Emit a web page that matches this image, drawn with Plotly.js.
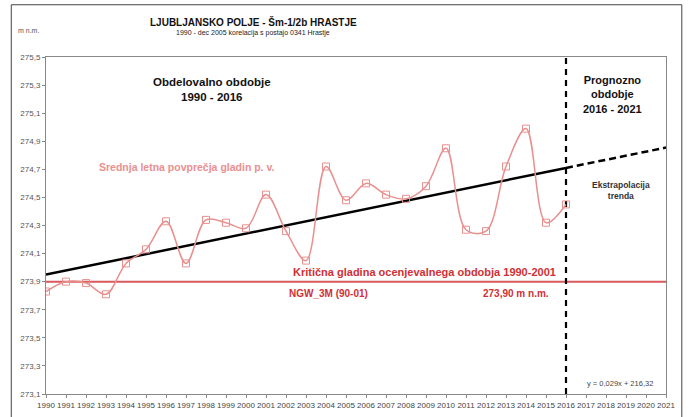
<!DOCTYPE html>
<html>
<head>
<meta charset="utf-8">
<script src="https://cdn.plot.ly/plotly-3.0.1.min.js"></script>
<style>html,body{margin:0;padding:0;background:#fff;}#chart{width:689px;height:417px;}</style>
</head>
<body>
<div id="chart"></div>
<script>
const years = [1990,1991,1992,1993,1994,1995,1996,1997,1998,1999,2000,2001,2002,2003,2004,2005,2006,2007,2008,2009,2010,2011,2012,2013,2014,2015,2016];
const levels = [273.83,273.90,273.89,273.81,274.03,274.13,274.33,274.03,274.34,274.32,274.28,274.52,274.26,274.05,274.72,274.48,274.60,274.52,274.49,274.58,274.85,274.27,274.26,274.72,274.99,274.32,274.45];
const trendX = [1990, 2016];
const trendY = [273.95, 274.71];
const extrapX = [2016, 2021];
const extrapY = [274.71, 274.855];
const criticalX = [1990, 2021];
const criticalY = [273.90, 273.90];
const splitX = [2016, 2016];
const splitY = [273.1, 275.5];
const yTicks = [273.1,273.3,273.5,273.7,273.9,274.1,274.3,274.5,274.7,274.9,275.1,275.3,275.5];
const xTicks = [1990,1991,1992,1993,1994,1995,1996,1997,1998,1999,2000,2001,2002,2003,2004,2005,2006,2007,2008,2009,2010,2011,2012,2013,2014,2015,2016,2017,2018,2019,2020,2021];

const F = 'Arial, "Liberation Sans", sans-serif';
const FN = '"Liberation Sans Narrow", "Arial Narrow", Arial, sans-serif';
const salmon = '#e8908e';
const red = '#d9585b';
const textRed = '#cf2f35';

const traces = [
  {x: criticalX, y: criticalY, mode:'lines', line:{color:red, width:2}, hoverinfo:'skip'},
  {x: splitX, y: splitY, mode:'lines', line:{color:'#000', width:2.2, dash:'6px,5px'}, hoverinfo:'skip'},
  {x: trendX, y: trendY, mode:'lines', line:{color:'#000', width:2.5}},
  {x: extrapX, y: extrapY, mode:'lines', line:{color:'#000', width:2.5, dash:'7px,4px'}},
  {x: years, y: levels, mode:'lines+markers', line:{color:salmon, width:1.5, shape:'spline', smoothing:1},
   marker:{symbol:'square-open', size:7, color:salmon, line:{width:1, color:salmon}}}
];

const layout = {
  width:689, height:417,
  margin:{l:46, r:23, t:57, b:23},
  paper_bgcolor:'#fff', plot_bgcolor:'#fff',
  showlegend:false,
  separators:', ',
  font:{family:F, color:'#333', size:8},
  xaxis:{range:[1990,2021], tickvals:xTicks, ticktext:xTicks.map(String), tickangle:0,
    showgrid:false, zeroline:false, showline:true, linecolor:'#888', linewidth:1, mirror:true,
    ticks:'outside', ticklen:3, tickcolor:'#888', tickfont:{size:8, color:'#444', family:FN}},
  yaxis:{range:[273.1,275.5], tickvals:yTicks, tickformat:'.1f',
    showgrid:false, zeroline:false, showline:true, linecolor:'#888', linewidth:1, mirror:true,
    ticks:'outside', ticklen:3, tickcolor:'#888', tickfont:{size:8, color:'#555', family:FN}},
  shapes:[
    {type:'rect', xref:'paper', yref:'paper', x0:-0.056, x1:1.0255, y0:-0.09, y1:1.155,
     line:{color:'#444', width:1}, fillcolor:'rgba(0,0,0,0)', layer:'below'}
  ],
  annotations:[
    {xref:'paper', yref:'paper', x:0.334, y:1.104, xanchor:'center', yanchor:'middle', showarrow:false,
     text:'<b>LJUBLJANSKO POLJE - Šm-1/2b HRASTJE</b>', font:{size:10, color:'#111', family:FN}},
    {xref:'paper', yref:'paper', x:0.334, y:1.07, xanchor:'center', yanchor:'middle', showarrow:false,
     text:'1990 - dec 2005 korelacija s postajo 0341 Hrastje', font:{size:7, color:'#222', family:FN}},
    {xref:'paper', yref:'paper', x:-0.048, y:1.08, xanchor:'left', yanchor:'middle', showarrow:false,
     text:'m n.m.', font:{size:7, color:'#555', family:FN}},
    {xref:'paper', yref:'paper', x:0.268, y:0.905, xanchor:'center', yanchor:'middle', showarrow:false,
     text:'<b>Obdelovalno obdobje<br>1990 - 2016</b>', font:{size:11.5, color:'#111', family:F}},
    {xref:'paper', yref:'paper', x:0.913, y:0.89, xanchor:'center', yanchor:'middle', showarrow:false,
     text:'<b>Prognozno<br>obdobje<br>2016 - 2021</b>', font:{size:11, color:'#111', family:F}},
    {xref:'paper', yref:'paper', x:0.927, y:0.605, xanchor:'center', yanchor:'middle', showarrow:false,
     text:'<b>Ekstrapolacija<br>trenda</b>', font:{size:8.5, color:'#333', family:F}},
    {xref:'paper', yref:'paper', x:0.082, y:0.675, xanchor:'left', yanchor:'middle', showarrow:false,
     text:'<b>Srednja letna povprečja gladin p. v.</b>', font:{size:10.5, color:'#ea8f8f', family:F}},
    {xref:'paper', yref:'paper', x:0.826, y:0.362, xanchor:'right', yanchor:'middle', showarrow:false,
     text:'<b>Kritična gladina ocenjevalnega obdobja 1990-2001</b>', font:{size:11, color:textRed, family:F}},
    {xref:'paper', yref:'paper', x:0.388, y:0.297, xanchor:'left', yanchor:'middle', showarrow:false,
     text:'<b>NGW_3M (90-01)</b>', font:{size:10, color:textRed, family:F}},
    {xref:'paper', yref:'paper', x:0.815, y:0.297, xanchor:'right', yanchor:'middle', showarrow:false,
     text:'<b>273,90 m n.m.</b>', font:{size:10, color:textRed, family:F}},
    {xref:'paper', yref:'paper', x:0.925, y:0.03, xanchor:'center', yanchor:'middle', showarrow:false,
     text:'y = 0,029x + 216,32', font:{size:7.5, color:'#444', family:FN}}
  ]
};

Plotly.newPlot('chart', traces, layout, {staticPlot:true, displayModeBar:false});
</script>
</body>
</html>
